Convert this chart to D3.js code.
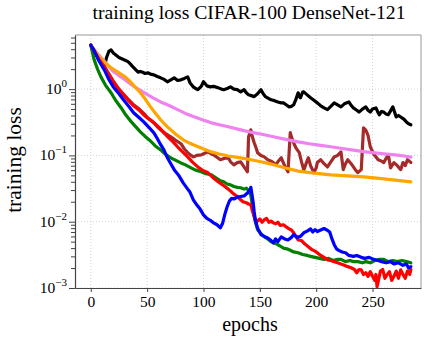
<!DOCTYPE html>
<html lang="en">
<head>
<meta charset="utf-8">
<title>training loss CIFAR-100 DenseNet-121</title>
<script src="https://cdn.jsdelivr.net/npm/d3@7"></script>
<style>
  body { margin: 0; background: #fff; }
  svg text { font-family: "Liberation Serif", "Times New Roman", serif !important; fill: #000; }
</style>
</head>
<body>
<script>
// chart values (epoch, loss)
var xTicks = [0, 50, 100, 150, 200, 250];
var yTicks = [1e-3, 1e-2, 1e-1, 1e0];
var yTickExp = ["\u22123", "\u22122", "\u22121", "0"];

var black = [[0,4.6],[4,3.5],[8,2.7],[12,2.15],[14,3.0],[16,3.7],[18,3.9],[20,3.5],[22,3.3],[25,3.0],[29,2.8],[33,2.6],[35,2.4],[37,2.2],[40,1.95],[42,1.8],[44,1.85],[46,1.8],[48,1.72],[51,1.76],[53,1.68],[56,1.64],[59,1.55],[62,1.48],[65,1.4],[68,1.29],[71,1.38],[74,1.48],[77,1.35],[80,1.38],[83,1.45],[86,1.53],[88,1.25],[91,1.08],[93,1.02],[95,0.98],[98,1.1],[100,1.29],[103,1.12],[106,1.08],[109,1.1],[113,1.05],[116,1.0],[118,0.98],[121,1.02],[124,1.08],[127,1.0],[130,0.98],[133,0.91],[136,0.98],[138,0.88],[140,0.82],[143,0.79],[145,0.77],[148,0.85],[151,0.98],[153,0.85],[155,0.77],[158,0.72],[160,0.69],[163,0.67],[166,0.64],[169,0.62],[171,0.62],[174,0.57],[176,0.54],[178,0.55],[180,0.58],[182,0.7],[184,0.88],[185,0.78],[186,0.74],[188,0.9],[189,0.91],[192,0.82],[195,0.74],[198,0.68],[201,0.62],[204,0.56],[207,0.52],[210,0.49],[213,0.55],[216,0.62],[219,0.58],[222,0.54],[225,0.6],[229,0.64],[231,0.57],[233,0.52],[236,0.48],[238,0.45],[241,0.5],[244,0.54],[246,0.48],[248,0.45],[250,0.5],[253,0.52],[255,0.44],[256,0.41],[258,0.46],[260,0.45],[262,0.42],[264,0.41],[266,0.47],[268,0.54],[270,0.43],[271,0.38],[273,0.4],[275,0.38],[278,0.35],[280,0.32],[282,0.3],[284,0.29]];

var brown = [[0,4.6],[4,3.5],[8,2.7],[12,2.2],[16,1.7],[20,1.32],[25,1.0],[29,0.84],[34,0.68],[38,0.58],[43,0.5],[47,0.43],[51,0.36],[56,0.31],[59,0.27],[62,0.243],[66,0.215],[71,0.19],[75,0.17],[80,0.15],[83,0.125],[86,0.11],[89,0.1],[91,0.095],[94,0.1],[98,0.102],[101,0.108],[104,0.113],[107,0.105],[109,0.102],[112,0.094],[115,0.086],[118,0.09],[122,0.092],[124,0.08],[127,0.072],[130,0.078],[133,0.08],[136,0.067],[138,0.06],[139,0.0566],[140,0.19],[142,0.243],[143,0.2],[145,0.155],[147,0.125],[148,0.11],[151,0.1],[154,0.095],[157,0.086],[160,0.082],[162,0.078],[164,0.072],[166,0.08],[169,0.092],[172,0.07],[175,0.0566],[177,0.22],[178,0.19],[180,0.155],[182,0.13],[185,0.11],[187,0.08],[189,0.06],[191,0.075],[193,0.092],[195,0.07],[198,0.055],[200,0.065],[201,0.078],[204,0.086],[207,0.075],[210,0.067],[213,0.08],[216,0.095],[219,0.1],[222,0.113],[224,0.061],[226,0.075],[228,0.086],[231,0.075],[233,0.067],[235,0.06],[237,0.055],[240,0.061],[242,0.26],[244,0.24],[246,0.2],[248,0.135],[251,0.105],[255,0.086],[258,0.082],[260,0.078],[262,0.09],[264,0.102],[266,0.065],[269,0.078],[272,0.07],[275,0.061],[277,0.078],[279,0.07],[281,0.086],[284,0.078]];

var violet = [[0,4.6],[5,3.6],[10,2.9],[15,2.3],[20,1.85],[25,1.6],[30,1.4],[35,1.2],[40,1.05],[47,0.89],[54,0.76],[62,0.64],[70,0.56],[77,0.49],[84,0.43],[91,0.385],[99,0.345],[107,0.31],[114,0.29],[122,0.27],[133,0.243],[143,0.222],[154,0.205],[164,0.188],[174,0.173],[184,0.16],[194,0.15],[204,0.142],[213,0.135],[223,0.127],[233,0.12],[242,0.114],[252,0.109],[262,0.105],[272,0.101],[278,0.098],[284,0.094]];

var orange = [[0,4.6],[4,3.7],[8,3.0],[12,2.55],[18,2.1],[25,1.76],[30,1.55],[35,1.3],[40,1.05],[44,0.88],[48,0.72],[53,0.54],[57,0.44],[62,0.345],[66,0.29],[71,0.243],[76,0.205],[82,0.172],[87,0.155],[91,0.145],[99,0.127],[107,0.113],[114,0.105],[122,0.098],[133,0.092],[142,0.086],[150,0.081],[160,0.074],[172,0.065],[184,0.058],[198,0.054],[213,0.051],[228,0.049],[242,0.0475],[256,0.045],[270,0.0425],[284,0.040]];

var green = [[0,4.6],[3,2.77],[6,2.0],[9,1.53],[13,1.15],[18,0.88],[22,0.68],[27,0.52],[31,0.41],[36,0.32],[40,0.27],[44,0.227],[48,0.195],[53,0.165],[57,0.14],[62,0.121],[66,0.105],[71,0.092],[75,0.085],[80,0.077],[84,0.072],[89,0.065],[93,0.06],[98,0.0566],[102,0.053],[107,0.051],[111,0.046],[115,0.0414],[118,0.04],[121,0.037],[124,0.036],[127,0.034],[130,0.033],[133,0.0325],[136,0.031],[138,0.032],[140,0.0295],[142,0.025],[144,0.0151],[146,0.01],[148,0.0076],[151,0.0066],[154,0.0059],[157,0.0055],[160,0.005],[162,0.0048],[165,0.0046],[168,0.0043],[171,0.004],[174,0.0039],[177,0.0037],[180,0.0035],[184,0.0034],[188,0.0032],[192,0.0031],[195,0.003],[199,0.0029],[203,0.0028],[207,0.0027],[211,0.0028],[215,0.0026],[219,0.0027],[222,0.0027],[226,0.0025],[230,0.0026],[233,0.0025],[237,0.0025],[241,0.0024],[244,0.0025],[248,0.0024],[252,0.0026],[256,0.0027],[260,0.0027],[264,0.0025],[268,0.0026],[272,0.0025],[276,0.0026],[280,0.0025],[284,0.0024]];

var red = [[0,4.6],[4,3.5],[8,2.7],[12,2.17],[16,1.65],[20,1.29],[25,0.98],[29,0.82],[34,0.66],[38,0.56],[43,0.48],[47,0.41],[50,0.37],[53,0.344],[57,0.3],[61,0.26],[65,0.219],[69,0.185],[73,0.16],[77,0.135],[81,0.115],[86,0.095],[90,0.08],[95,0.067],[99,0.06],[104,0.0547],[108,0.047],[113,0.04],[117,0.036],[122,0.031],[125,0.028],[127,0.026],[130,0.024],[133,0.0214],[135,0.02],[138,0.0193],[140,0.0185],[142,0.018],[144,0.0135],[146,0.0105],[148,0.0102],[150,0.011],[152,0.0098],[154,0.0107],[156,0.0112],[158,0.0098],[160,0.0102],[162,0.0096],[164,0.0093],[166,0.0098],[168,0.0088],[171,0.009],[174,0.0082],[176,0.0078],[178,0.0075],[180,0.0068],[182,0.006],[184,0.0053],[187,0.0052],[190,0.0046],[193,0.0042],[196,0.0038],[199,0.0036],[201,0.0034],[204,0.0031],[207,0.0029],[210,0.00266],[213,0.0026],[216,0.0025],[219,0.0024],[222,0.0023],[225,0.0022],[228,0.0021],[231,0.00202],[234,0.0019],[236,0.0017],[238,0.0019],[240,0.00188],[242,0.0016],[244,0.0017],[246,0.0015],[248,0.00176],[250,0.0015],[252,0.0013],[253,0.0016],[254,0.00105],[256,0.0015],[257,0.0018],[259,0.0019],[261,0.0014],[263,0.0016],[265,0.00176],[267,0.0013],[269,0.0015],[271,0.0018],[273,0.0014],[275,0.00188],[277,0.0016],[279,0.0014],[281,0.0018],[283,0.0016],[284,0.0019]];

var blue = [[0,4.6],[3,3.8],[7,2.7],[12,1.95],[16,1.4],[20,1.08],[25,0.85],[29,0.69],[34,0.54],[38,0.44],[43,0.37],[47,0.32],[52,0.26],[56,0.219],[59,0.18],[62,0.145],[65,0.12],[68,0.092],[71,0.075],[74,0.061],[78,0.05],[82,0.0386],[86,0.031],[88,0.028],[91,0.0214],[94,0.018],[97,0.0155],[100,0.0127],[103,0.0112],[106,0.0105],[109,0.0096],[112,0.009],[115,0.0081],[117,0.0095],[119,0.013],[121,0.0168],[123,0.0205],[125,0.0225],[127,0.022],[130,0.0235],[133,0.024],[136,0.0245],[139,0.027],[141,0.03],[142,0.033],[143,0.026],[144,0.02],[145,0.014],[146,0.0107],[148,0.008],[151,0.0064],[154,0.006],[157,0.0057],[160,0.0052],[162,0.0048],[164,0.0055],[166,0.005],[169,0.0059],[172,0.0055],[175,0.0053],[178,0.0058],[180,0.0064],[183,0.0058],[186,0.006],[189,0.0068],[192,0.0072],[195,0.0078],[197,0.007],[199,0.0076],[201,0.0071],[204,0.0075],[207,0.0079],[210,0.0074],[212,0.007],[214,0.0055],[216,0.0045],[218,0.0039],[220,0.0037],[223,0.0035],[226,0.0034],[229,0.0031],[233,0.003],[236,0.0031],[240,0.0029],[243,0.0028],[247,0.0029],[251,0.0027],[255,0.0026],[258,0.0025],[262,0.0024],[266,0.0025],[269,0.0023],[273,0.0024],[277,0.0022],[280,0.0023],[282,0.002],[284,0.0021]];

var series = [
  {data: black,  color: "#000000"},
  {data: brown,  color: "#a52a2a"},
  {data: violet, color: "#ee82ee"},
  {data: orange, color: "#ffa500"},
  {data: green,  color: "#008000"},
  {data: red,    color: "#ff0000"},
  {data: blue,   color: "#0000ff"}
];

var W = 426, H = 342;
var L = 75, R = 421, T = 35, B = 288;
var serif = "'Liberation Serif', 'Times New Roman', serif";

var svg = d3.select("body").append("svg")
  .attr("width", W).attr("height", H);

var x = d3.scaleLinear().domain([-14, 293]).range([L, R]);
var y = d3.scaleLog().domain([1e-3, 6.55]).range([B, T]);

// grid
svg.append("g").selectAll("line").data(xTicks).enter().append("line")
  .attr("x1", function(d){ return x(d); }).attr("x2", function(d){ return x(d); })
  .attr("y1", T).attr("y2", B)
  .attr("stroke", "#c8c8c8").attr("stroke-width", 0.8).attr("stroke-dasharray", "1,2");
svg.append("g").selectAll("line").data(yTicks).enter().append("line")
  .attr("x1", L).attr("x2", R)
  .attr("y1", function(d){ return y(d); }).attr("y2", function(d){ return y(d); })
  .attr("stroke", "#c8c8c8").attr("stroke-width", 0.8).attr("stroke-dasharray", "1,2");

// lines
svg.append("clipPath").attr("id", "clip").append("rect")
  .attr("x", L).attr("y", T).attr("width", R - L).attr("height", B - T);

var line = d3.line()
  .x(function(d){ return x(d[0]); })
  .y(function(d){ return y(d[1]); });

svg.append("g").attr("clip-path", "url(#clip)")
  .selectAll("path").data(series).enter().append("path")
  .attr("d", function(s){ return line(s.data); })
  .attr("fill", "none")
  .attr("stroke", function(s){ return s.color; })
  .attr("stroke-width", 3.2)
  .attr("stroke-linejoin", "round")
  .attr("stroke-linecap", "round");

// frame
svg.append("line").attr("x1", L).attr("x2", R).attr("y1", T).attr("y2", T)
  .attr("stroke", "#999").attr("stroke-width", 1);
svg.append("line").attr("x1", R).attr("x2", R).attr("y1", T).attr("y2", B)
  .attr("stroke", "#999").attr("stroke-width", 1);

// x axis
var xAxis = d3.axisBottom(x).tickValues(xTicks).tickSize(4).tickSizeOuter(0).tickPadding(4);
var gx = svg.append("g").attr("transform", "translate(0," + B + ")").call(xAxis)
  .attr("font-family", null).attr("font-size", null);
gx.select(".domain").attr("stroke", "#444").attr("stroke-width", 1.2);
gx.selectAll(".tick line").attr("stroke", "#444");
gx.selectAll(".tick text")
  .style("font-family", serif).style("font-size", "15.5px").attr("fill", "#000");

// y axis with minor ticks
var minor = [];
[-3, -2, -1, 0].forEach(function(e){
  for (var m = 2; m <= 9; m++) {
    var v = m * Math.pow(10, e);
    if (v <= y.domain()[1]) minor.push(v);
  }
});
var gyMinor = svg.append("g").attr("transform", "translate(" + L + ",0)")
  .call(d3.axisLeft(y).tickValues(minor).tickSize(4).tickFormat(""));
gyMinor.select(".domain").remove();
gyMinor.selectAll(".tick line").attr("stroke", "#444");

var gy = svg.append("g").attr("transform", "translate(" + L + ",0)")
  .call(d3.axisLeft(y).tickValues(yTicks).tickSize(6).tickSizeOuter(0).tickFormat(""));
gy.select(".domain").attr("stroke", "#444").attr("stroke-width", 1.2);
gy.selectAll(".tick line").attr("stroke", "#444");

var yl = svg.append("g").selectAll("text").data(yTicks).enter().append("text")
  .attr("x", 67)
  .attr("y", function(d){ return y(d) + 5; })
  .attr("text-anchor", "end")
  .style("font-family", serif)
  .style("font-size", "15.5px");
yl.append("tspan").text("10");
yl.append("tspan").attr("dy", -7).style("font-size", "11px")
  .text(function(d, i){ return yTickExp[i]; });

// titles
svg.append("text").attr("x", (L + R) / 2 + 1).attr("y", 19)
  .attr("text-anchor", "middle").style("font-family", serif).style("font-size", "19.7px")
  .text("training loss CIFAR-100 DenseNet-121");
svg.append("text").attr("x", (L + R) / 2 + 2).attr("y", 331)
  .attr("text-anchor", "middle").style("font-family", serif).style("font-size", "20px")
  .text("epochs");
svg.append("text").attr("transform", "translate(21,160) rotate(-90)")
  .attr("text-anchor", "middle").style("font-family", serif).style("font-size", "21.5px")
  .text("training loss");
</script>
</body>
</html>
